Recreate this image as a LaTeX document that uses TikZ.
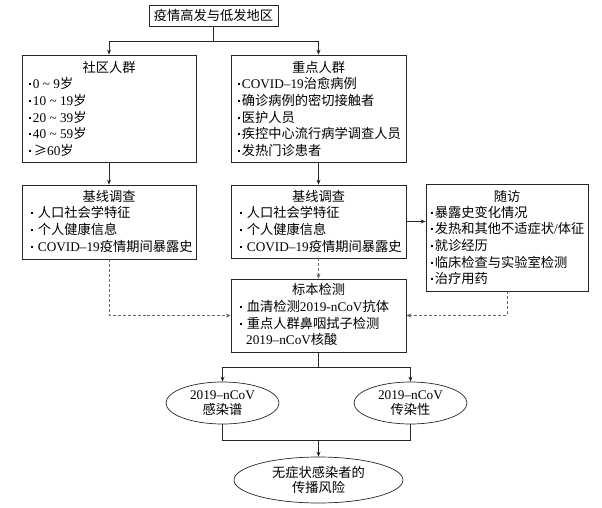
\documentclass[tikz,border=0pt]{standalone}
\usepackage{fontspec}
\setmainfont{Liberation Serif}
\newfontfamily\cjk{Noto Sans CJK SC}
\newcommand\zh[1]{{\cjk #1}}
\newcommand\bul{\raisebox{0.32em}{\rule{1.8pt}{1.8pt}}}
\usetikzlibrary{arrows.meta,shapes.geometric}
\begin{document}
\begin{tikzpicture}[x=1bp,y=-1bp,
  every node/.style={font=\fontsize{13.3}{15}\selectfont},
  box/.style={draw=black!85, line width=0.7pt, inner sep=0},
  ell/.style={draw=black!85, line width=0.7pt, ellipse, inner sep=0, align=center},
  title/.style={anchor=center, inner sep=0, text height=11.4pt, text depth=1.5pt},
  item/.style={anchor=west, inner sep=0, text height=11.4pt, text depth=1.5pt},
  conn/.style={draw=black!85, line width=0.7pt},
  arr/.style={conn, -{Stealth[length=5pt,width=4pt]}},
  dsh/.style={draw=black!60, line width=0.6pt, dash pattern=on 3pt off 2pt, -{Stealth[length=5pt,width=4pt]}}
]
\useasboundingbox (0,0) rectangle (602,508);

% boxes
\node[box, minimum width=129bp, minimum height=21bp] (T) at (213.5,15.5) {};
\node[title] (Tt) at (213.5,15.5) {\zh{疫情高发与低发地区}};

\node[box, minimum width=174bp, minimum height=107bp] (L1) at (109,108.5) {};
\node[box, minimum width=175bp, minimum height=107bp] (R1) at (318.5,108.5) {};
\node[box, minimum width=174bp, minimum height=74bp] (L2) at (109,222) {};
\node[box, minimum width=175bp, minimum height=73bp] (R2) at (318.5,221.5) {};
\node[box, minimum width=162bp, minimum height=107bp] (F) at (507,237.5) {};
\node[box, minimum width=175bp, minimum height=73bp] (S) at (318.5,315.5) {};

\node[ell, minimum width=113bp, minimum height=42bp] (E1) at (222.5,403) {2019–nCoV\\\zh{感染谱}};
\node[ell, minimum width=113bp, minimum height=42bp] (E2) at (410.5,403) {2019–nCoV\\\zh{传染性}};
\node[ell, minimum width=169bp, minimum height=46bp] (E3) at (318.5,480) {\zh{无症状感染者的}\\\zh{传播风险}};

% L1 text
\node[title] (L1t) at (109,68) {\zh{社区人群}};
\node[item] (L1a) at (29,84) {\bul\hspace{2pt}0 \textasciitilde\ 9\zh{岁}};
\node[item] (L1b) at (29,101) {\bul\hspace{2pt}10 \textasciitilde\ 19\zh{岁}};
\node[item] (L1c) at (29,118) {\bul\hspace{2pt}20 \textasciitilde\ 39\zh{岁}};
\node[item] (L1d) at (29,134) {\bul\hspace{2pt}40 \textasciitilde\ 59\zh{岁}};
\node[item] (L1e) at (29,151) {\bul\hspace{3pt}\zh{≥}60\zh{岁}};

% R1 text
\node[title] (R1t) at (318.5,68) {\zh{重点人群}};
\node[item] (R1a) at (238,84) {\bul\hspace{2pt}COVID–19\zh{治愈病例}};
\node[item] (R1b) at (238,101) {\bul\hspace{2pt}\zh{确诊病例的密切接触者}};
\node[item] (R1c) at (238,118) {\bul\hspace{2pt}\zh{医护人员}};
\node[item] (R1d) at (238,134) {\bul\hspace{2pt}\zh{疾控中心流行病学调查人员}};
\node[item] (R1e) at (238,151) {\bul\hspace{2pt}\zh{发热门诊患者}};

% L2 text
\node[title] (L2t) at (109,197) {\zh{基线调查}};
\node[item] (L2a) at (31,213) {\bul\hspace{5pt}\zh{人口社会学特征}};
\node[item] (L2b) at (31,230) {\bul\hspace{5pt}\zh{个人健康信息}};
\node[item] (L2c) at (31,247) {\bul\hspace{5pt}COVID–19\zh{疫情期间暴露史}};

% R2 text
\node[title] (R2t) at (318.5,197) {\zh{基线调查}};
\node[item] (R2a) at (240,213) {\bul\hspace{5pt}\zh{人口社会学特征}};
\node[item] (R2b) at (240,230) {\bul\hspace{5pt}\zh{个人健康信息}};
\node[item] (R2c) at (240,247) {\bul\hspace{5pt}COVID–19\zh{疫情期间暴露史}};

% F text
\node[title] (Ft) at (507,197) {\zh{随访}};
\node[item] (Fa) at (431,213) {\bul\hspace{2pt}\zh{暴露史变化情况}};
\node[item] (Fb) at (431,229) {\bul\hspace{2pt}\zh{发热和其他不适症状}/\zh{体征}};
\node[item] (Fc) at (431,246) {\bul\hspace{2pt}\zh{就诊经历}};
\node[item] (Fd) at (431,263) {\bul\hspace{2pt}\zh{临床检查与实验室检测}};
\node[item] (Fe) at (431,279) {\bul\hspace{2pt}\zh{治疗用药}};

% S text
\node[title] (St) at (318.5,290) {\zh{标本检测}};
\node[item] (Sa) at (240,307) {\bul\hspace{5pt}\zh{血清检测}2019-nCoV\zh{抗体}};
\node[item] (Sb) at (240,324) {\bul\hspace{5pt}\zh{重点人群鼻咽拭子检测}};
\node[item] (Sc) at (246,340) {2019–nCoV\zh{核酸}};

% connectors
\coordinate (J1) at (213.5,41);
\draw[conn] (T.south) -- (J1);
\draw[arr] (J1) -| (L1.north);
\draw[arr] (J1) -| (R1.north);
\draw[arr] (L1.south) -- (L2.north);
\draw[arr] (R1.south) -- (R2.north);
\draw[arr] (R2.east) -- (R2.east -| F.west);
\draw[dsh] (R2.south) -- (S.north);
\draw[dsh] (L2.south) |- (S.west);
\draw[dsh] (F.south) |- (S.east);

\coordinate (J2) at (318.5,367);
\draw[conn] (S.south) -- (J2);
\draw[arr] (J2) -| (E1.north);
\draw[arr] (J2) -| (E2.north);
\coordinate (J3) at (318.5,440);
\draw[conn] (E1.south) |- (J3);
\draw[conn] (E2.south) |- (J3);
\draw[arr] (J3) -- (E3.north);
\end{tikzpicture}
\end{document}
